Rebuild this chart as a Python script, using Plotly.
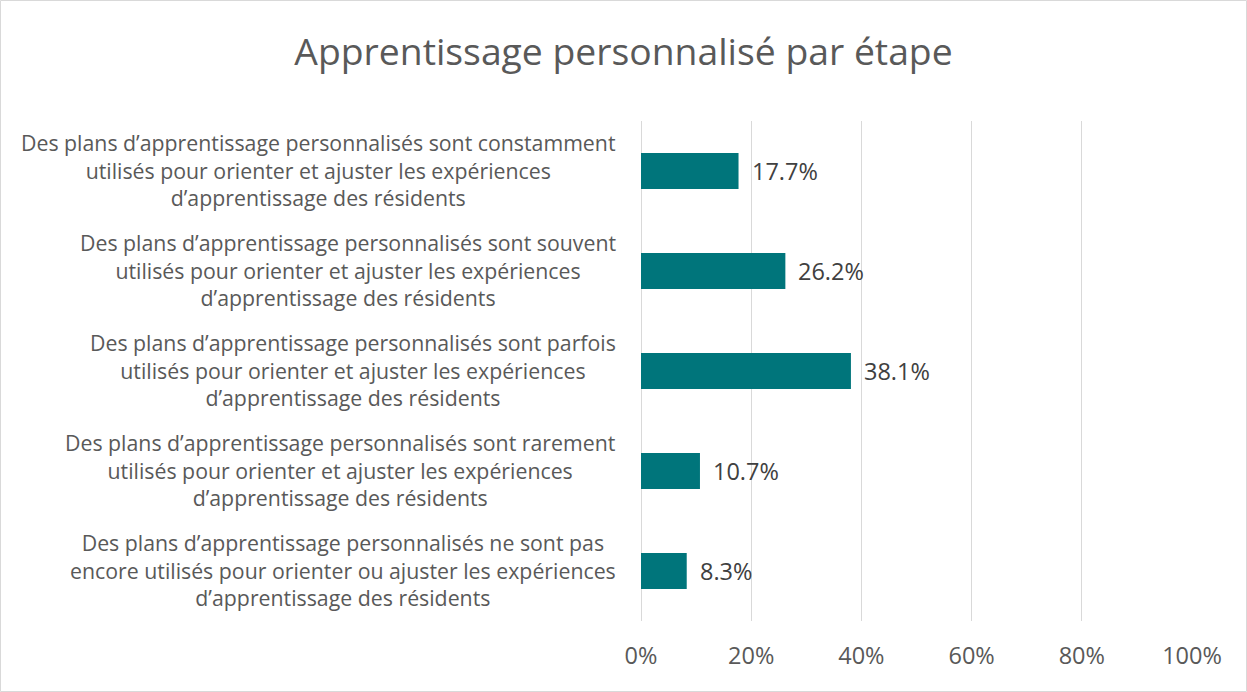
import plotly.graph_objects as go

# ---- data ----
categories = [
    "Des plans d’apprentissage personnalisés sont constamment<br>utilisés pour orienter et ajuster les expériences<br>d’apprentissage des résidents",
    "Des plans d’apprentissage personnalisés sont souvent<br>utilisés pour orienter et ajuster les expériences<br>d’apprentissage des résidents",
    "Des plans d’apprentissage personnalisés sont parfois<br>utilisés pour orienter et ajuster les expériences<br>d’apprentissage des résidents",
    "Des plans d’apprentissage personnalisés sont rarement<br>utilisés pour orienter et ajuster les expériences<br>d’apprentissage des résidents",
    "Des plans d’apprentissage personnalisés ne sont pas<br>encore utilisés pour orienter ou ajuster les expériences<br>d’apprentissage des résidents",
]
values = [0.177, 0.262, 0.381, 0.107, 0.083]
tick_vals = [0, 0.2, 0.4, 0.6, 0.8, 1.0]
tick_text = ["0%", "20%", "40%", "60%", "80%", "100%"]
title_text = "Apprentissage personnalisé par étape"

# ---- style ----
W, H = 1247, 692
ML, MR, MT, MB = 641, 55, 121, 71
FONT = "Open Sans"
BAR = "#00757B"
TXT = "#404040"
GREY = "#595959"
LBL_SIZE = 21.3
VAL_SIZE = 23.5

fig = go.Figure(go.Bar(
    x=values, y=categories, orientation="h", width=0.36,
    marker=dict(color=BAR, line=dict(width=0)),
    hoverinfo="skip",
))

annotations = []
# value labels
for c, v in zip(categories, values):
    annotations.append(dict(
        x=v, y=c, xref="x", yref="y", text=f"{v*100:.1f}%",
        showarrow=False, xanchor="left", yanchor="middle", xshift=11,
        font=dict(family=FONT, size=VAL_SIZE, color=TXT),
    ))

# category labels: right-anchored block, lines centred within it
plot_w = W - ML - MR
right_px = 618
x_right = (right_px - ML) / plot_w
for c in categories:
    annotations.append(dict(
        x=x_right, y=c, xref="paper", yref="y", text=c,
        showarrow=False, xanchor="right", yanchor="middle", align="center",
        yshift=1,
        font=dict(family=FONT, size=LBL_SIZE, color=GREY),
    ))

fig.update_layout(
    width=W, height=H,
    margin=dict(l=ML, r=MR, t=MT, b=MB, pad=0),
    paper_bgcolor="white", plot_bgcolor="white",
    showlegend=False,
    title=dict(text=title_text, x=0.5, xref="container", xanchor="center",
               y=1 - 52 / H, yref="container", yanchor="middle",
               font=dict(family=FONT, size=37.3, color=GREY)),
    xaxis=dict(range=[0, 1], tickvals=tick_vals, ticktext=tick_text,
               showgrid=True, gridcolor="#D9D9D9", gridwidth=1,
               zeroline=True, zerolinecolor="#D9D9D9", zerolinewidth=1,
               showline=False, ticks="", ticklabelstandoff=18,
               tickfont=dict(family=FONT, size=VAL_SIZE, color=GREY),
               fixedrange=True),
    yaxis=dict(type="category", categoryorder="array", categoryarray=categories,
               autorange="reversed", showticklabels=False, showgrid=False,
               zeroline=False, showline=False, ticks="", fixedrange=True),
    annotations=annotations,
    shapes=[dict(type="rect", xref="paper", yref="paper",
                 x0=(0.5 - ML) / plot_w, x1=(W - 0.5 - ML) / plot_w,
                 y0=(-(MB - 0.5)) / (H - MT - MB), y1=(H - MB - 0.5) / (H - MT - MB),
                 line=dict(color="#D9D9D9", width=1), layer="below")],
)

fig.write_html("out.html", config={"displayModeBar": False},
               post_script="document.body.style.margin='0';document.body.style.overflow='hidden';")
